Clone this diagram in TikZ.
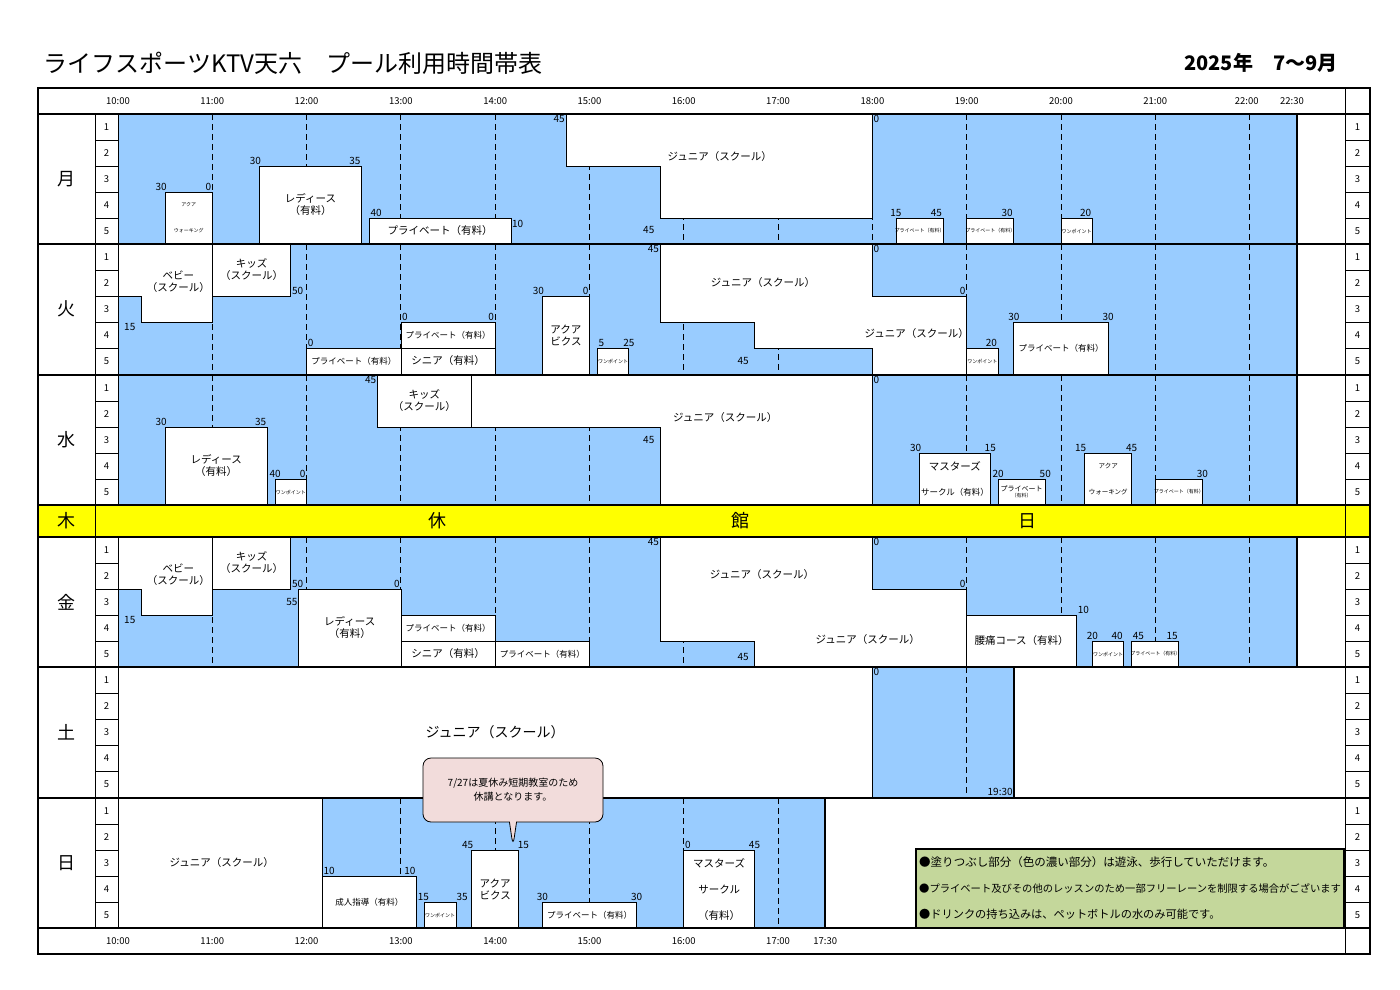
\documentclass[tikz,border=0pt]{standalone}
\usepackage{fontspec}
\setmainfont{Noto Sans CJK JP}
\usetikzlibrary{positioning,shapes.callouts}

\definecolor{poolblue}{RGB}{153,204,255}
\definecolor{notegreen}{RGB}{196,215,155}
\definecolor{notepink}{RGB}{242,220,219}
\definecolor{closedyellow}{RGB}{255,255,0}

\tikzset{
  day/.style={shift={(-825pt,-#1pt)},x=94.3pt,y=-26pt},
  lesson/.style={draw,fill=white,line width=0.8pt},
  freelane/.style={draw,fill=poolblue,line width=0.8pt},
  hourline/.style={dash pattern=on 6pt off 4pt,line width=0.9pt},
  minlbl/.style={font=\fontsize{10}{10}\selectfont,inner sep=1pt},
  txt/.style={font=\fontsize{10.5}{12}\selectfont,align=center,inner sep=1pt},
  smalltxt/.style={font=\fontsize{8.5}{10}\selectfont,align=center,inner sep=1pt},
  tinytxt/.style={font=\fontsize{5}{6}\selectfont,align=center,inner sep=0pt},
  dayname/.style={font=\fontsize{18}{18}\selectfont},
  lanenum/.style={font=\fontsize{9.5}{10}\selectfont},
  timelbl/.style={font=\fontsize{9.5}{10}\selectfont},
}

\newcommand{\lessonbox}[6][txt]{%
  \draw[lesson] (#2,#4) rectangle (#3,#5);
  \node[#1] at ({(#2+#3)/2},{(#4+#5)/2}) {#6};}
\newcommand{\hourlines}[2]{%
  \foreach \h in {#1,...,#2} \draw[hourline] (\h,0) -- (\h,5);}

\begin{document}
\begin{tikzpicture}[x=1pt,y=-1pt]
\useasboundingbox (0,0) rectangle (1400,990);

% title
\node[anchor=west,font=\fontsize{24}{24}\selectfont] (title) at (40,63) {ライフスポーツKTV天六　プール利用時間帯表};
\node[anchor=east,font=\fontsize{20}{20}\selectfont\bfseries] (period) at (1341,63) {2025年　7～9月};

% ---- Monday
\begin{scope}[day=114]
  \draw[freelane] (10,0) rectangle (22.5,5);
  \hourlines{11}{22}
  \draw[lesson] (14.75,0) -- (18,0) -- (18,4) -- (15.75,4) -- (15.75,2) -- (14.75,2) -- cycle;
  \node[txt] (monjr) at (16.38,1.65) {ジュニア（スクール）};
  \draw[lesson] (10.5,3) rectangle (11,5);
  \node[tinytxt] at (10.75,3.5) {アクア};
  \node[tinytxt] at (10.75,4.5) {ウォーキング};
  \lessonbox{11.5}{12.5833}{2}{5}{レディース\\（有料）}
  \lessonbox{12.6667}{14.1667}{4}{5}{プライベート（有料）}
  \lessonbox[tinytxt]{18.25}{18.75}{4}{5}{プライベート（有料）}
  \lessonbox[tinytxt]{19}{19.5}{4}{5}{プライベート（有料）}
  \lessonbox[tinytxt]{20}{20.3333}{4}{5}{ワンポイント}
  \node[minlbl,anchor=north east] at (14.75,0) {45};
  \node[minlbl,anchor=east] at (15.7,4.45) {45};
  \node[minlbl,anchor=south,xshift=-4pt] at (10.5,3) {30};
  \node[minlbl,anchor=south east] at (11,3) {0};
  \node[minlbl,anchor=south,xshift=-4pt] at (11.5,2) {30};
  \node[minlbl,anchor=south east] at (12.5833,2) {35};
  \node[minlbl,anchor=south west] at (12.6667,4) {40};
  \node[minlbl,anchor=north west] at (14.1667,4.05) {10};
  \node[minlbl,anchor=north west] at (18,0) {0};
  \node[minlbl,anchor=south] at (18.25,4) {15};
  \node[minlbl,anchor=south east] at (18.75,4) {45};
  \node[minlbl,anchor=south east] at (19.5,4) {30};
  \node[minlbl,anchor=south east] at (20.3333,4) {20};
  \draw[line width=2pt] (22.5,0) -- (22.5,5);
\end{scope}

% ---- Tuesday
\begin{scope}[day=244]
  \draw[freelane] (10,0) rectangle (22.5,5);
  \hourlines{11}{22}
  \draw[lesson] (10,0) -- (11,0) -- (11,3) -- (10.25,3) -- (10.25,2) -- (10,2) -- cycle;
  \node[txt] at (10.64,1.45) {ベビー\\（スクール）};
  \lessonbox{11}{11.8333}{0}{2}{キッズ\\（スクール）}
  \lessonbox[smalltxt]{12}{13}{4}{5}{プライベート（有料）}
  \lessonbox[smalltxt]{13}{14}{3}{4}{プライベート（有料）}
  \lessonbox{13}{14}{4}{5}{シニア（有料）}
  \lessonbox{14.5}{15}{2}{5}{アクア\\ビクス}
  \lessonbox[tinytxt]{15.0833}{15.4167}{4}{5}{ワンポイント}
  \draw[lesson] (15.75,0) -- (18,0) -- (18,2) -- (19,2) -- (19,5) -- (18,5) -- (18,4) -- (16.75,4) -- (16.75,3) -- (15.75,3) -- cycle;
  \node[txt] at (16.84,1.5) {ジュニア（スクール）};
  \node[txt] at (18.47,3.45) {ジュニア（スクール）};
  \lessonbox[tinytxt]{19}{19.3333}{4}{5}{ワンポイント}
  \lessonbox[smalltxt]{19.5}{20.5}{3}{5}{プライベート（有料）}
  \node[minlbl,anchor=north west,xshift=5pt] at (10,3) {15};
  \node[minlbl,anchor=south west] at (11.8333,2) {50};
  \node[minlbl,anchor=south west] at (12,4) {0};
  \node[minlbl,anchor=south west] at (13,3) {0};
  \node[minlbl,anchor=south east] at (14,3) {0};
  \node[minlbl,anchor=south,xshift=-4pt] at (14.5,2) {30};
  \node[minlbl,anchor=south east] at (15,2) {0};
  \node[minlbl,anchor=south west] at (15.0833,4) {5};
  \node[minlbl,anchor=south] at (15.4167,4) {25};
  \node[minlbl,anchor=north east] at (15.75,0) {45};
  \node[minlbl,anchor=east] at (16.7,4.5) {45};
  \node[minlbl,anchor=north west] at (18,0) {0};
  \node[minlbl,anchor=south east] at (19,2) {0};
  \node[minlbl,anchor=south east] at (19.3333,4) {20};
  \node[minlbl,anchor=south] at (19.5,3) {30};
  \node[minlbl,anchor=south] at (20.5,3) {30};
  \draw[line width=2pt] (22.5,0) -- (22.5,5);
\end{scope}

% ---- Wednesday
\begin{scope}[day=375]
  \draw[freelane] (10,0) rectangle (22.5,5);
  \hourlines{11}{22}
  \lessonbox{10.5}{11.5833}{2}{5}{レディース\\（有料）}
  \lessonbox[tinytxt]{11.6667}{12}{4}{5}{ワンポイント}
  \lessonbox{12.75}{13.75}{0}{2}{キッズ\\（スクール）}
  \draw[lesson] (13.75,0) -- (18,0) -- (18,5) -- (15.75,5) -- (15.75,2) -- (13.75,2) -- cycle;
  \node[txt] at (16.44,1.65) {ジュニア（スクール）};
  \draw[lesson] (18.5,3) rectangle (19.25,5);
  \node[txt] at (18.875,3.5) {マスターズ};
  \node[smalltxt] at (18.875,4.5) {サークル（有料）};
  \lessonbox[tinytxt]{19.3333}{19.8333}{4}{5}{\fontsize{7}{7}\selectfont プライベート\\（有料）}
  \draw[lesson] (20.25,3) rectangle (20.75,5);
  \node[tinytxt,font=\fontsize{6.5}{7}\selectfont] at (20.5,3.5) {アクア};
  \node[tinytxt,font=\fontsize{6.5}{7}\selectfont] at (20.5,4.5) {ウォーキング};
  \lessonbox[tinytxt]{21}{21.5}{4}{5}{プライベート（有料）}
  \node[minlbl,anchor=south,xshift=-4pt] at (10.5,2) {30};
  \node[minlbl,anchor=south east] at (11.5833,2) {35};
  \node[minlbl,anchor=south] at (11.6667,4) {40};
  \node[minlbl,anchor=south east] at (12,4) {0};
  \node[minlbl,anchor=north east] at (12.75,0) {45};
  \node[minlbl,anchor=east] at (15.7,2.5) {45};
  \node[minlbl,anchor=north west] at (18,0) {0};
  \node[minlbl,anchor=south,xshift=-4pt] at (18.5,3) {30};
  \node[minlbl,anchor=south] at (19.25,3) {15};
  \node[minlbl,anchor=south] at (19.3333,4) {20};
  \node[minlbl,anchor=south] at (19.8333,4) {50};
  \node[minlbl,anchor=south,xshift=-4pt] at (20.25,3) {15};
  \node[minlbl,anchor=south] at (20.75,3) {45};
  \node[minlbl,anchor=south] at (21.5,4) {30};
  \draw[line width=2pt] (22.5,0) -- (22.5,5);
\end{scope}

% ---- Thursday (closed)
\draw[fill=closedyellow,line width=2pt] (38,505) rectangle (1370,537);
\draw[line width=1pt] (95,505) -- (95,537);
\node[dayname] (thu) at (66,521) {木};
\node[dayname] (closed1) at (437,521) {休};
\node[dayname] (closed2) at (740,521) {館};
\node[dayname] (closed3) at (1027,521) {日};

% ---- Friday
\begin{scope}[day=537]
  \draw[freelane] (10,0) rectangle (22.5,5);
  \hourlines{11}{22}
  \draw[lesson] (10,0) -- (11,0) -- (11,3) -- (10.25,3) -- (10.25,2) -- (10,2) -- cycle;
  \node[txt] at (10.64,1.45) {ベビー\\（スクール）};
  \lessonbox{11}{11.8333}{0}{2}{キッズ\\（スクール）}
  \lessonbox{11.9167}{13}{2}{5}{レディース\\（有料）}
  \lessonbox[smalltxt]{13}{14}{3}{4}{プライベート（有料）}
  \lessonbox{13}{14}{4}{5}{シニア（有料）}
  \lessonbox[smalltxt]{14}{15}{4}{5}{プライベート（有料）}
  \draw[lesson] (15.75,0) -- (18,0) -- (18,2) -- (19,2) -- (19,5) -- (16.75,5) -- (16.75,4) -- (15.75,4) -- cycle;
  \node[txt] at (16.83,1.46) {ジュニア（スクール）};
  \node[txt] at (17.95,3.96) {ジュニア（スクール）};
  \lessonbox{19}{20.1667}{3}{5}{腰痛コース（有料）}
  \lessonbox[tinytxt]{20.3333}{20.6667}{4}{5}{ワンポイント}
  \lessonbox[tinytxt]{20.75}{21.25}{4}{5}{プライベート（有料）}
  \node[minlbl,anchor=north west,xshift=5pt] at (10,3) {15};
  \node[minlbl,anchor=south west] at (11.8333,2) {50};
  \node[minlbl,anchor=east] at (11.9167,2.5) {55};
  \node[minlbl,anchor=south east] at (13,2) {0};
  \node[minlbl,anchor=north east] at (15.75,0) {45};
  \node[minlbl,anchor=east] at (16.7,4.6) {45};
  \node[minlbl,anchor=north west] at (18,0) {0};
  \node[minlbl,anchor=south east] at (19,2) {0};
  \node[minlbl,anchor=south west] at (20.1667,3) {10};
  \node[minlbl,anchor=south] at (20.3333,4) {20};
  \node[minlbl,anchor=south east] at (20.6667,4) {40};
  \node[minlbl,anchor=south west] at (20.75,4) {45};
  \node[minlbl,anchor=south east] at (21.25,4) {15};
  \draw[line width=2pt] (22.5,0) -- (22.5,5);
\end{scope}

% ---- Saturday
\begin{scope}[day=667]
  \draw[freelane] (18,0) rectangle (19.5,5);
  \hourlines{19}{19}
  \node[txt,font=\fontsize{14}{14}\selectfont] (satjr) at (14,2.5) {ジュニア（スクール）};
  \node[minlbl,anchor=north west] at (18,0) {0};
  \node[minlbl,anchor=south east] at (19.5,5) {19:30};
  \draw[line width=2pt] (19.5,0) -- (19.5,5);
\end{scope}

% ---- Sunday
\begin{scope}[day=798]
  \draw[freelane] (12.1667,0) rectangle (17.5,5);
  \hourlines{13}{17}
  \node[txt] (sunjr) at (11.1,2.5) {ジュニア（スクール）};
  \lessonbox[smalltxt]{12.1667}{13.1667}{3}{5}{成人指導（有料）}
  \lessonbox[tinytxt]{13.25}{13.5833}{4}{5}{ワンポイント}
  \lessonbox{13.75}{14.25}{2}{5}{アクア\\ビクス}
  \lessonbox[smalltxt]{14.5}{15.5}{4}{5}{プライベート（有料）}
  \draw[lesson] (16,2) rectangle (16.75,5);
  \node[txt] at (16.375,2.5) {マスターズ};
  \node[txt] at (16.375,3.5) {サークル};
  \node[txt] at (16.375,4.5) {（有料）};
  \node[minlbl,anchor=south west] at (12.1667,3) {10};
  \node[minlbl,anchor=south east] at (13.1667,3) {10};
  \node[minlbl,anchor=south west] at (13.1667,4) {15};
  \node[minlbl,anchor=south] at (13.65,4) {35};
  \node[minlbl,anchor=south,xshift=-4pt] at (13.75,2) {45};
  \node[minlbl,anchor=south] at (14.3,2) {15};
  \node[minlbl,anchor=south] at (14.5,4) {30};
  \node[minlbl,anchor=south] at (15.5,4) {30};
  \node[minlbl,anchor=south west] at (16,2) {0};
  \node[minlbl,anchor=south] at (16.75,2) {45};
  \draw[line width=2pt] (17.5,0) -- (17.5,5);
\end{scope}

% ---- frame
\draw[line width=1.2pt] (38,88) rectangle (1370,954);
\foreach \y in {114,244,375,667,798,928} \draw[line width=1.2pt] (38,\y) -- (1370,\y);
\foreach \x in {95,118} \draw[line width=0.8pt] (\x,114) -- (\x,505) (\x,537) -- (\x,928);
\draw[line width=0.8pt] (1345,88) -- (1345,954);
\foreach \top/\dname/\dtxt in {114/mon/月,244/tue/火,375/wed/水,537/fri/金,667/sat/土,798/sun/日}{
  \node[dayname] (\dname) at (66,\top+65) {\dtxt};
  \foreach \k in {1,...,5}{
    \node[lanenum] at (106.5,\top+\k*26-13) {\k};
    \node[lanenum] at (1357.5,\top+\k*26-13) {\k};
  }
  \foreach \k in {1,...,4}
    \draw[line width=0.5pt] (95,\top+\k*26) -- (118,\top+\k*26) (1345,\top+\k*26) -- (1370,\top+\k*26);
}

% ---- time rows
\begin{scope}[shift={(-825pt,-101pt)},x=94.3pt]
  \foreach \h in {10,...,21} \node[timelbl] at (\h,0) {\h:00};
  \node[timelbl] at (21.97,0) {22:00};
  \node[timelbl] at (22.45,0) {22:30};
\end{scope}
\begin{scope}[shift={(-825pt,-941pt)},x=94.3pt]
  \foreach \h in {10,...,17} \node[timelbl] at (\h,0) {\h:00};
  \node[timelbl] at (17.5,0) {17:30};
\end{scope}

% ---- note and legend
\node[rectangle callout,rounded corners=8pt,draw,fill=notepink,line width=0.8pt,
  minimum width=180pt,minimum height=64pt,align=center,font=\fontsize{10}{14}\selectfont,
  callout absolute pointer={(513,846)}] (note) at (513,790) {7/27は夏休み短期教室のため\\休講となります。};
\draw[fill=notegreen,line width=2pt] (916,849) rectangle (1344,928);
\node[anchor=west,font=\fontsize{11.5}{12}\selectfont,inner sep=0pt] (rule1) at (919,862) {●塗りつぶし部分（色の濃い部分）は遊泳、歩行していただけます。};
\node[anchor=west,font=\fontsize{10.3}{12}\selectfont,inner sep=0pt] (rule2) at (919,888) {●プライベート及びその他のレッスンのため一部フリーレーンを制限する場合がございます};
\node[anchor=west,font=\fontsize{11.2}{12}\selectfont,inner sep=0pt] (rule3) at (919,914) {●ドリンクの持ち込みは、ペットボトルの水のみ可能です。};
\end{tikzpicture}
\end{document}
